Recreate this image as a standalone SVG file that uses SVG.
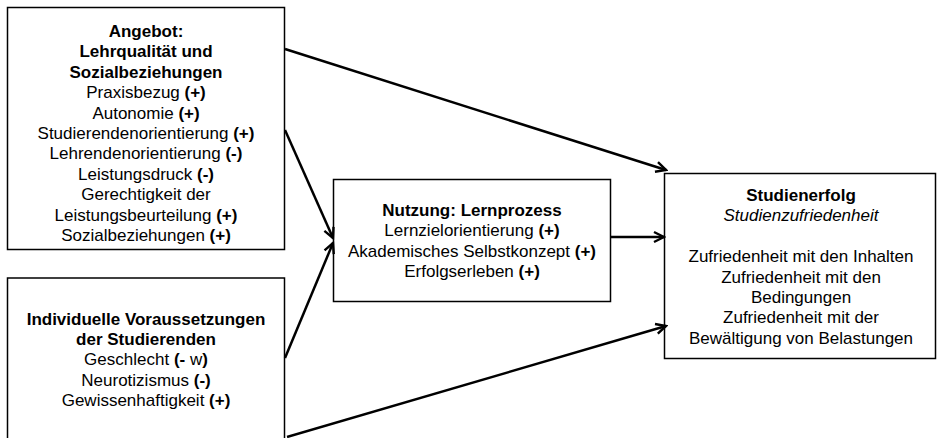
<svg xmlns="http://www.w3.org/2000/svg" width="937" height="438" viewBox="0 0 937 438">
<style>
.box{fill:#fff;stroke:#000;stroke-width:1.5}
text{font-family:"Liberation Sans",Arial,sans-serif;font-size:17px;fill:#000;text-anchor:middle}
.b{font-weight:bold}
.i{font-style:italic}
.c line{stroke:#000;stroke-width:2.5;marker-end:url(#ah)}
</style>
<defs>
<marker id="ah" markerUnits="userSpaceOnUse" markerWidth="14" markerHeight="14" viewBox="0 0 14 14" refX="12" refY="7" orient="auto">
<path d="M2,2 L12,7 L2,12" fill="none" stroke="#000" stroke-width="2.4" stroke-linejoin="miter"/>
</marker>
</defs>
<rect width="937" height="438" fill="#fff"/>
<g id="angebot">
<rect class="box" x="7.5" y="7.5" width="277" height="242"/>
<text x="146" y="37" class="b">Angebot:</text>
<text x="146" y="57.4" class="b">Lehrqualität und</text>
<text x="146" y="77.8" class="b">Sozialbeziehungen</text>
<text x="146" y="98.2">Praxisbezug <tspan class="b">(+)</tspan></text>
<text x="146" y="118.6">Autonomie <tspan class="b">(+)</tspan></text>
<text x="146" y="139">Studierendenorientierung <tspan class="b">(+)</tspan></text>
<text x="146" y="159.4">Lehrendenorientierung <tspan class="b">(-)</tspan></text>
<text x="146" y="179.8">Leistungsdruck <tspan class="b">(-)</tspan></text>
<text x="146" y="200.2">Gerechtigkeit der</text>
<text x="146" y="220.6">Leistungsbeurteilung <tspan class="b">(+)</tspan></text>
<text x="146" y="241">Sozialbeziehungen <tspan class="b">(+)</tspan></text>
</g>
<g id="voraussetzungen">
<rect class="box" x="7.5" y="278" width="277" height="175"/>
<text x="146" y="324.5" class="b">Individuelle Voraussetzungen</text>
<text x="146" y="344.9" class="b">der Studierenden</text>
<text x="146" y="365.3">Geschlecht <tspan class="b">(-</tspan> w<tspan class="b">)</tspan></text>
<text x="146" y="385.7">Neurotizismus  <tspan class="b">(-)</tspan></text>
<text x="146" y="406.1">Gewissenhaftigkeit <tspan class="b">(+)</tspan></text>
</g>
<g id="nutzung">
<rect class="box" x="333.5" y="179.5" width="277" height="122"/>
<text x="472" y="216" class="b">Nutzung: Lernprozess</text>
<text x="472" y="236.4">Lernzielorientierung <tspan class="b">(+)</tspan></text>
<text x="472" y="256.8">Akademisches Selbstkonzept <tspan class="b">(+)</tspan></text>
<text x="472" y="277.2">Erfolgserleben <tspan class="b">(+)</tspan></text>
</g>
<g id="studienerfolg">
<rect class="box" x="664.5" y="173.5" width="271" height="185"/>
<text x="801" y="201" class="b">Studienerfolg</text>
<text x="801" y="221.4" class="i">Studienzufriedenheit</text>
<text x="801" y="262.2">Zufriedenheit mit den Inhalten</text>
<text x="801" y="282.6">Zufriedenheit mit den</text>
<text x="801" y="303">Bedingungen</text>
<text x="801" y="323.4">Zufriedenheit mit der</text>
<text x="801" y="343.8">Bewältigung von Belastungen</text>
</g>
<g class="c" id="connectors">
<line x1="285" y1="49" x2="666" y2="170"/>
<line x1="285" y1="130" x2="333" y2="238"/>
<line x1="285" y1="358" x2="333" y2="243"/>
<line x1="611" y1="237" x2="664" y2="237"/>
<line x1="287" y1="437" x2="666" y2="326"/>
</g>
</svg>
